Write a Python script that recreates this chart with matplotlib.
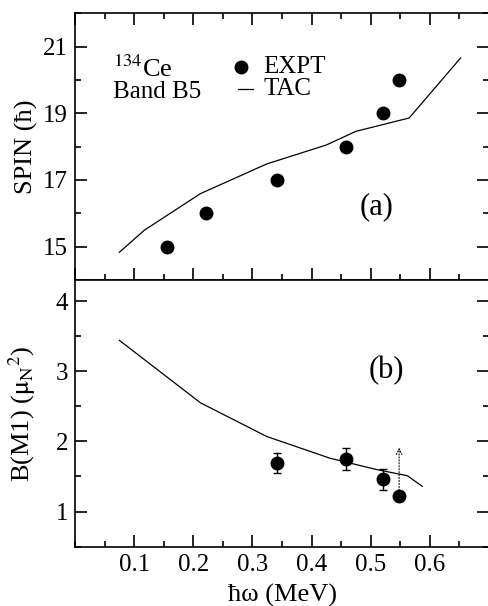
import numpy as np
import matplotlib.pyplot as plt
from matplotlib.ticker import MultipleLocator

plt.rcParams['font.family'] = ['Liberation Serif', 'DejaVu Serif']
plt.rcParams['mathtext.fontset'] = 'stix'

# panel (a): spin vs rotational frequency
expt_w = [0.156, 0.221, 0.341, 0.4575, 0.520, 0.548]
expt_spin = [15, 16, 17, 18, 19, 20]
tac_w = [0.075, 0.117, 0.212, 0.324, 0.425, 0.475, 0.565, 0.652]
tac_spin = [14.83, 15.49, 16.59, 17.48, 18.05, 18.46, 18.86, 20.66]

# panel (b): B(M1)
bm1_w = [0.341, 0.4575, 0.520]
bm1 = [1.69, 1.75, 1.46]
bm1_err = [0.14, 0.16, 0.15]
limit_w = 0.548
limit_lo = 1.22
limit_hi = 1.95
tac_bw = [0.075, 0.212, 0.324, 0.431, 0.509, 0.562, 0.587]
tac_bm1 = [3.44, 2.55, 2.07, 1.76, 1.60, 1.51, 1.36]

fig = plt.figure(figsize=(4.89, 6.06), dpi=100)
ax1 = fig.add_axes([0.1534, 0.538, 0.8466, 0.440])
ax2 = fig.add_axes([0.1534, 0.098, 0.8466, 0.440])

lw = 0.9
ax1.plot(tac_w, tac_spin, color='black', lw=lw)
ax1.plot(expt_w, expt_spin, 'o', color='black', ms=9)
ax1.set_xlim(0, 0.7)
ax1.set_ylim(14, 22)
ax1.set_ylabel('SPIN (ħ)', fontsize=19)
ax1.yaxis.set_minor_locator(MultipleLocator(1))
ax1.set_yticks([15, 17, 19, 21])

ax1.text(0.064, 20.1, r'$^{134}$Ce', fontsize=19)
ax1.text(0.064, 19.47, 'Band B5', fontsize=18)
ax1.plot([0.281], [20.39], 'o', color='black', ms=9)
ax1.text(0.318, 20.39, 'EXPT', fontsize=18, va='center')
ax1.plot([0.276, 0.301], [19.74, 19.74], color='black', lw=lw)
ax1.text(0.318, 19.74, 'TAC', fontsize=18, va='center')
ax1.text(0.482, 16.2, '(a)', fontsize=22, va='center')

ax2.plot(tac_bw, tac_bm1, color='black', lw=lw)
ax2.errorbar(bm1_w, bm1, yerr=bm1_err, fmt='o', color='black', ms=9,
             capsize=3, elinewidth=1, capthick=1)
ax2.plot([limit_w], [limit_lo], 'o', color='black', ms=9)
ax2.annotate('', xy=(limit_w, limit_hi), xytext=(limit_w, limit_lo),
             arrowprops=dict(arrowstyle='->', color='black', lw=0.8, ls=':'))
ax2.set_xlim(0, 0.7)
ax2.set_ylim(0.5, 4.3)
ax2.set_yticks([1, 2, 3, 4])
ax2.yaxis.set_minor_locator(MultipleLocator(0.5))
ax2.set_ylabel(r'B(M1) ($\mathrm{μ}_\mathrm{N}{}^{2}$)', fontsize=19)
ax2.set_xlabel('ħω (MeV)', fontsize=19, labelpad=6)
ax2.text(0.497, 3.01, '(b)', fontsize=22, va='center')

for ax in (ax1, ax2):
    ax.xaxis.set_major_locator(MultipleLocator(0.1))
    ax.xaxis.set_minor_locator(MultipleLocator(0.05))
    ax.tick_params(which='both', direction='in', left=True, right=True,
                   top=(ax is ax1), bottom=True, labelsize=18, width=1.2)
    ax.tick_params(which='major', length=8.5, pad=5)
    ax.tick_params(which='minor', length=4.3)
    for s in ax.spines.values():
        s.set_linewidth(1.2)

ax2.set_xticks([0.1, 0.2, 0.3, 0.4, 0.5, 0.6])
ax2.xaxis.set_minor_locator(MultipleLocator(0.05))
ax1.tick_params(labelbottom=False)
ax1.yaxis.set_label_coords(-0.09, 0.5)
ax2.yaxis.set_label_coords(-0.09, 0.5)

fig.savefig('out.png', dpi=100)
